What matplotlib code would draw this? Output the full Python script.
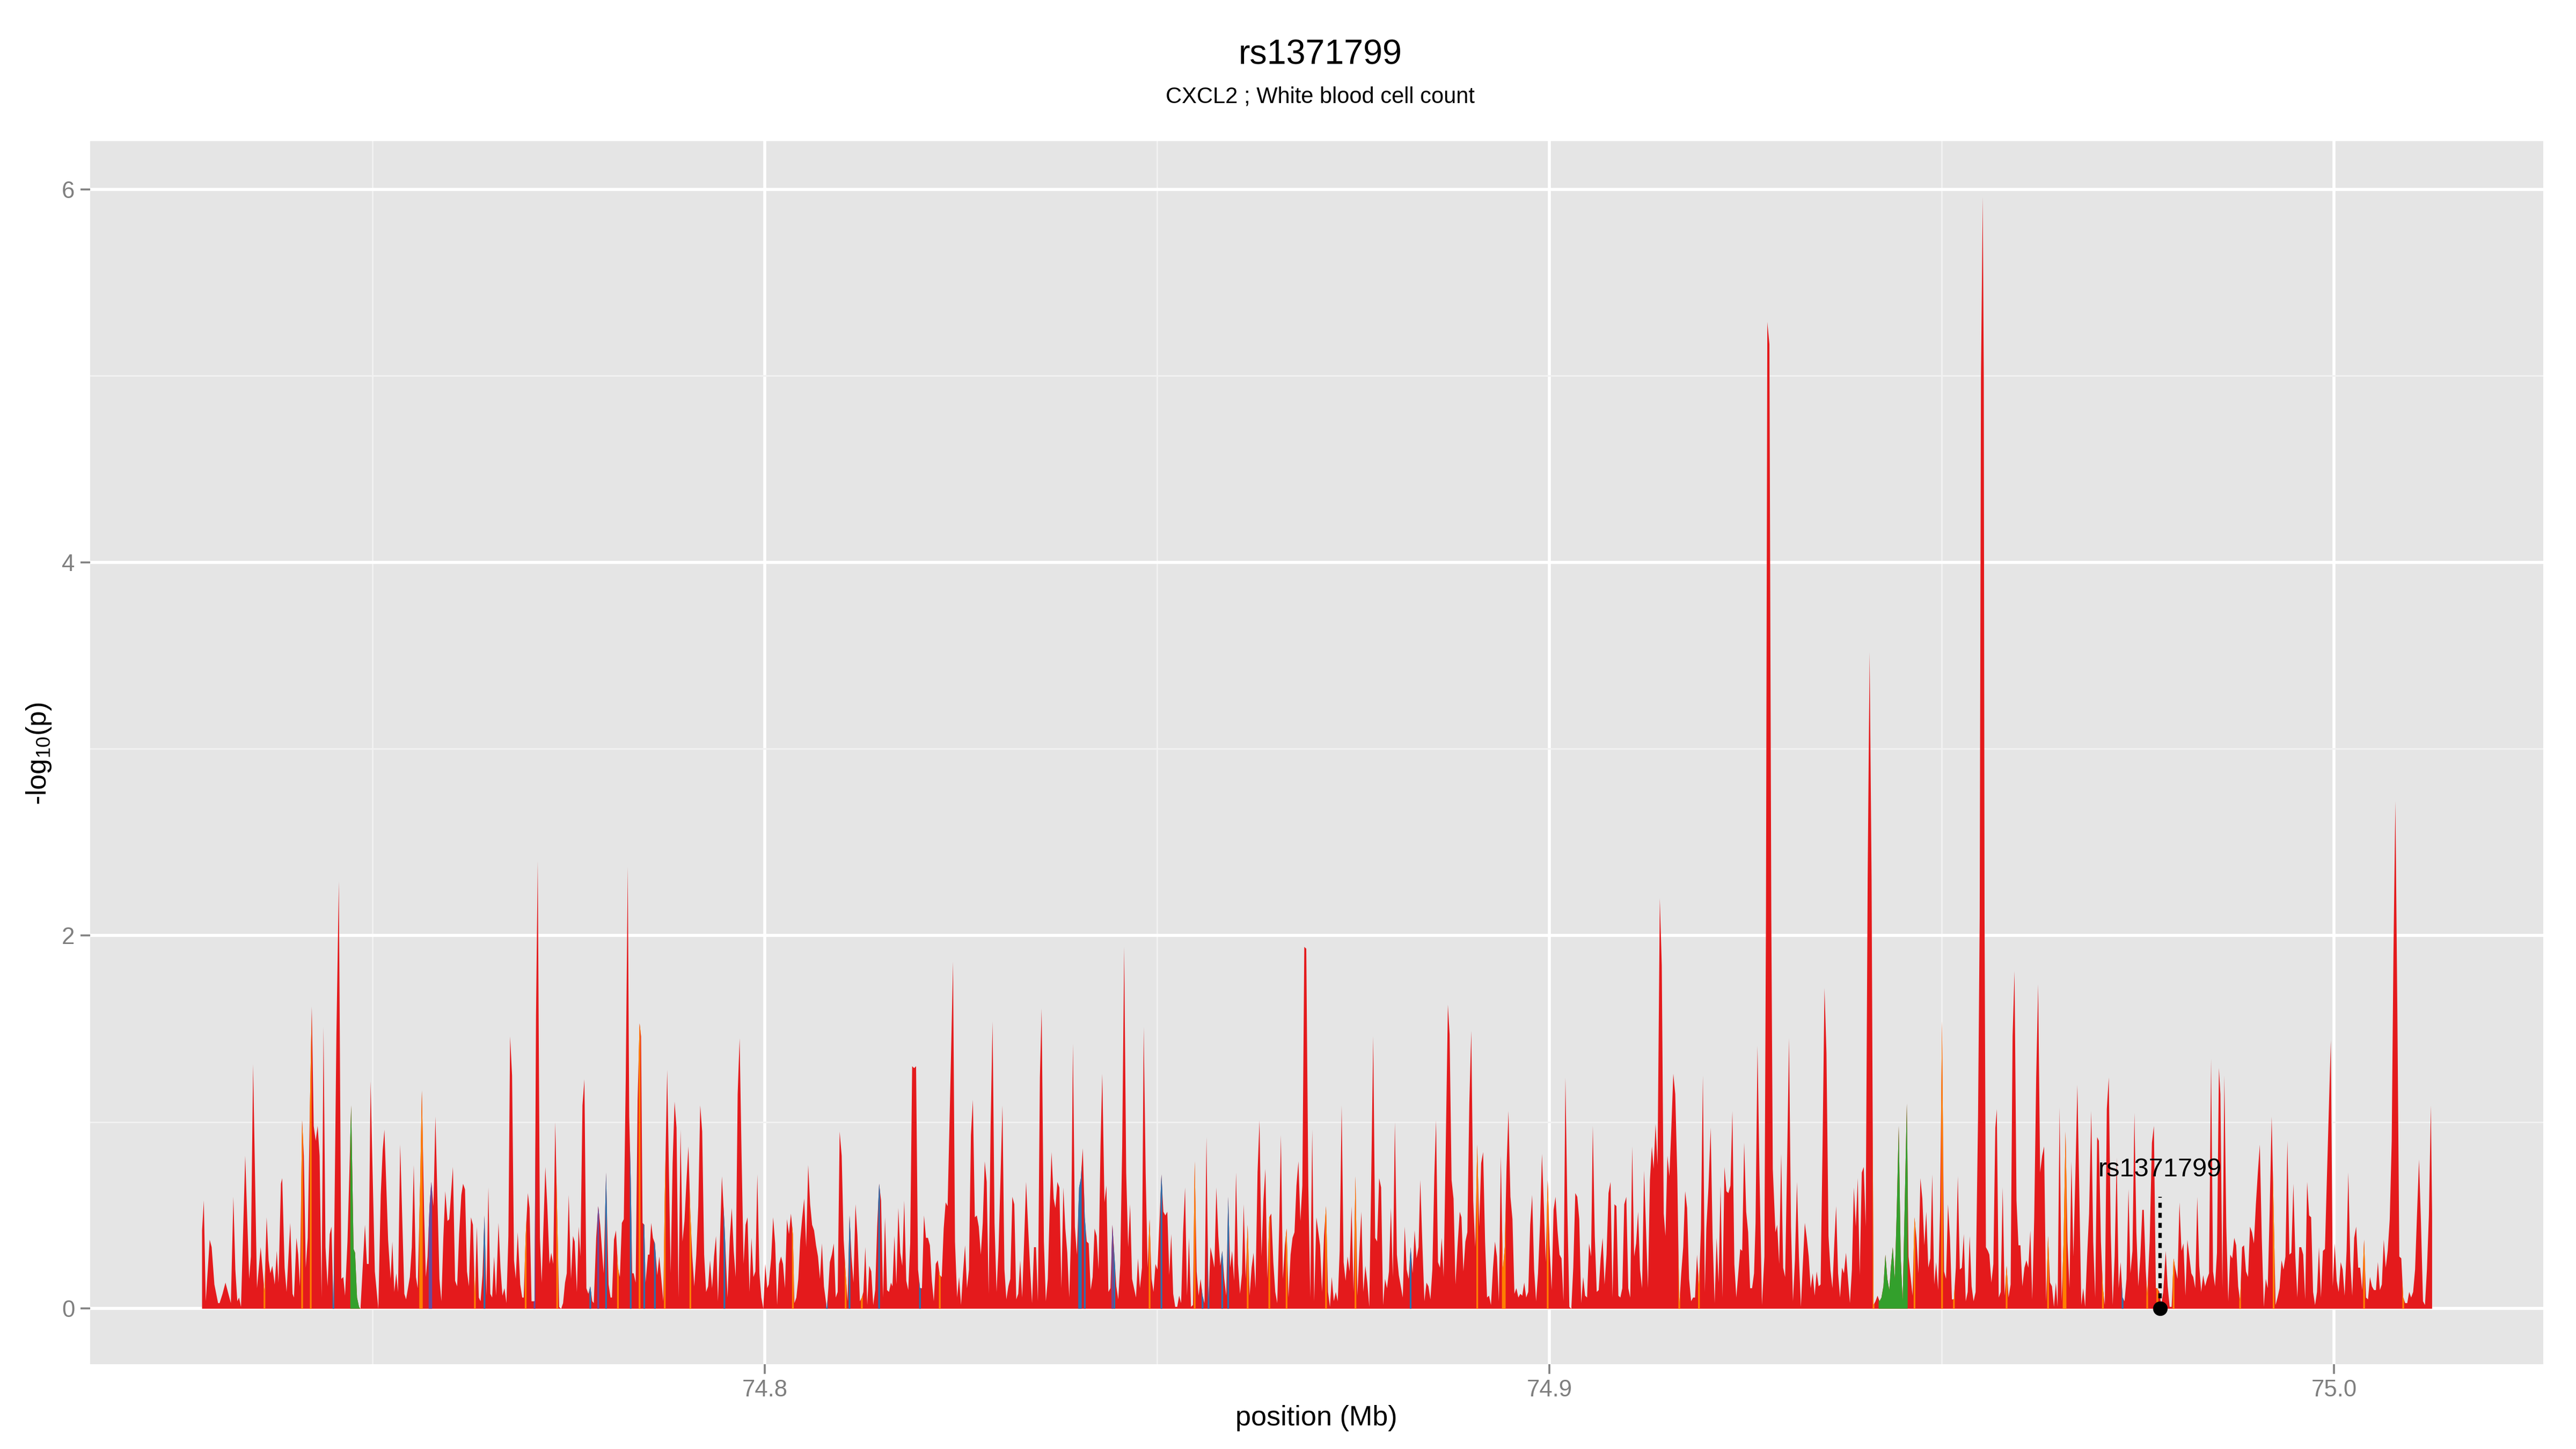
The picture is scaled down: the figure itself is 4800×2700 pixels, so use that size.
import numpy as np
import matplotlib
matplotlib.use('Agg')
import matplotlib.pyplot as plt
from matplotlib.ticker import FixedLocator

plt.rcParams['font.family'] = ['Liberation Sans', 'DejaVu Sans']
plt.rcParams['mathtext.fontset'] = 'custom'
plt.rcParams['mathtext.rm'] = 'Liberation Sans'

# text
title = 'rs1371799'
subtitle = 'CXCL2 ; White blood cell count'
lead_snp = 'rs1371799'
xlabel = 'position (Mb)'
ylabel = r'-$\mathregular{log_{10}(p)}$'

# lead SNP (kb from region start) and its -log10 p
region_start_mb = 74.7
lead_kb = 277.85
lead_logp = 0.0

# SNP positions, kb from 74.7 Mb
pos_kb = [
    28.25, 28.47, 28.72, 29.22, 29.47, 29.82, 30.29, 30.48, 30.86, 31.23,
    31.92, 32.24, 32.49, 32.74, 32.96, 33.21, 33.75, 34.25, 34.47, 34.75,
    35.25, 35.72, 36.2, 36.48, 36.73, 36.95, 37.2, 37.51, 37.77, 37.99,
    38.3, 38.46, 38.77, 39.02, 39.49, 39.78, 39.96, 40.28, 40.5, 40.72,
    41.0, 41.22, 41.47, 41.72, 41.97, 42.23, 42.48, 42.73, 42.98, 43.23,
    43.48, 43.73, 43.98, 44.24, 44.52, 44.74, 44.99, 45.37, 45.68, 46.0,
    46.25, 46.47, 46.78, 47.0, 47.25, 47.56, 47.75, 48.0, 48.25, 48.44,
    49.01, 49.26, 49.48, 49.73, 50.27, 50.71, 51.02, 51.27, 51.49, 51.96,
    52.28, 52.5, 52.75, 53.0, 53.22, 53.5, 54.03, 54.25, 54.73, 54.98,
    55.23, 55.51, 55.73, 56.04, 56.26, 56.55, 56.77, 56.99, 57.24, 57.46,
    57.74, 57.99, 58.5, 58.75, 59.0, 59.25, 59.53, 59.75, 60.22, 60.5,
    60.76, 61.01, 61.29, 61.51, 61.76, 62.01, 62.26, 62.52, 62.77, 63.02,
    63.27, 63.52, 63.74, 63.99, 64.24, 64.49, 64.74, 64.99, 65.22, 65.47,
    65.72, 66.03, 66.28, 66.53, 66.79, 67.04, 67.29, 67.51, 67.76, 68.01,
    68.23, 68.48, 68.8, 69.05, 69.24, 69.49, 69.77, 69.99, 70.24, 70.62,
    70.81, 71.03, 71.31, 71.53, 72.0, 72.25, 72.53, 72.75, 73.0, 73.26,
    73.51, 73.76, 74.01, 74.26, 74.51, 74.73, 74.98, 75.27, 75.52, 75.74, 76.02, 76.24,
    76.47, 76.73, 76.98, 77.23, 77.48, 77.73, 77.98, 78.17, 78.48, 78.74,
    78.99, 79.43, 79.74, 80.06, 80.31, 80.49, 80.75, 81.0, 81.25, 81.5,
    81.75, 82.0, 82.25, 82.5, 82.69, 82.88, 83.07, 83.26, 83.51, 83.76,
    84.01, 84.2, 84.39, 84.61, 84.77, 85.08, 85.27, 85.49, 85.71, 85.96,
    86.27, 86.52, 86.78, 87.03, 87.22, 87.53, 87.97, 88.22, 88.47, 88.72,
    88.97, 89.23, 89.48, 89.73, 89.98, 90.23, 90.48, 90.73, 90.98, 91.24,
    91.49, 91.74, 91.99, 92.24, 92.49, 92.74, 92.99, 93.25, 93.5, 93.75,
    94.0, 94.25, 94.5, 94.82, 95.22, 95.51, 95.76, 96.01, 96.26, 96.51,
    96.76, 97.01, 97.27, 97.52, 97.77, 98.02, 98.27, 98.52, 98.77, 99.02,
    99.28, 99.53, 99.78, 100.03, 100.28, 100.47, 100.78, 101.03, 101.29, 101.54,
    101.79, 102.04, 102.29, 102.54, 102.79, 103.05, 103.3, 103.55, 103.74, 103.99,
    104.24, 104.49, 104.74, 104.99, 105.24, 105.5, 105.75, 106.0, 106.25, 106.5,
    106.75, 107.0, 107.25, 107.51, 107.88, 108.07, 108.26, 108.51, 108.76, 109.01,
    109.26, 109.51, 109.77, 110.02, 110.27, 110.52, 110.77, 111.02, 111.27, 111.53,
    111.78, 112.09, 112.34, 112.53, 112.78, 113.03, 113.28, 113.54, 113.79, 114.04,
    114.29, 114.54, 114.79, 115.04, 115.29, 115.55, 115.8, 116.05, 116.24, 116.49,
    116.74, 116.99, 117.24, 117.49, 117.74, 118.0, 118.25, 118.5, 118.75, 119.0,
    119.25, 119.5, 119.75, 120.0, 120.26, 120.51, 120.76, 121.01, 121.26, 121.51,
    121.76, 122.01, 122.27, 122.52, 122.77, 123.02, 123.27, 123.71, 123.96, 124.21,
    124.48, 124.73, 124.98, 125.23, 125.49, 125.74, 125.99, 126.24, 126.49, 126.74,
    126.99, 127.24, 127.5, 127.75, 128.0, 128.25, 128.5, 128.75, 129.0, 129.25,
    129.51, 129.76, 130.01, 130.26, 130.51, 130.76, 131.01, 131.26, 131.52, 131.77,
    132.02, 132.27, 132.52, 132.77, 133.02, 133.27, 133.53, 133.78, 134.03, 134.28,
    134.53, 134.78, 135.03, 135.25, 135.54, 135.79, 136.04, 136.29, 136.51, 136.79,
    137.01, 137.26, 137.51, 137.77, 138.02, 138.27, 138.52, 138.77, 139.02, 139.24,
    139.49, 139.74, 140.03, 140.25, 140.5, 140.75, 141.0, 141.25, 141.5, 141.75,
    142.0, 142.26, 142.51, 142.76, 142.98, 143.26, 143.51, 143.76, 144.02, 144.27,
    144.52, 144.77, 145.02, 145.27, 145.52, 145.77, 146.03, 146.28, 146.53, 146.78,
    147.03, 147.28, 147.53, 147.78, 148.04, 148.26, 148.51, 148.76, 149.01, 149.26,
    149.51, 149.76, 150.01, 150.27, 150.52, 150.77, 151.02, 151.27, 151.52, 151.77,
    152.02, 152.28, 152.53, 152.78, 153.03, 153.28, 153.53, 153.78, 154.03, 154.29,
    154.54, 154.76, 155.01, 155.26, 155.51, 155.76, 156.01, 156.26, 156.52, 156.77,
    157.02, 157.27, 157.52, 157.77, 158.02, 158.27, 158.53, 158.78, 159.03, 159.28,
    159.53, 159.78, 160.03, 160.28, 160.54, 160.79, 161.01, 161.26, 161.51, 161.76,
    162.01, 162.26, 162.51, 162.77, 163.02, 163.27, 163.52, 163.77, 164.02, 164.27,
    164.52, 164.78, 165.03, 165.28, 165.53, 165.75, 166.0, 166.25, 166.47, 166.72,
    166.98, 167.23, 167.48, 167.73, 167.98, 168.23, 168.48, 168.73, 168.98, 169.24,
    169.49, 169.74, 169.99, 170.27, 170.49, 170.74, 170.99, 171.24, 171.5, 171.75, 172.0,
    172.23, 172.49, 172.74, 172.99, 173.24, 173.49, 173.74, 173.99, 174.24, 174.5,
    174.75, 175.0, 175.25, 175.5, 175.75, 176.0, 176.25, 176.51, 176.76, 177.01,
    177.26, 177.51, 177.76, 178.01, 178.27, 178.52, 178.77, 179.02, 179.27, 179.52,
    179.77, 180.02, 180.27, 180.53, 180.78, 181.03, 181.28, 181.53, 181.78, 182.03,
    182.28, 182.54, 182.79, 183.04, 183.29, 183.51, 183.79, 184.04, 184.3, 184.55,
    184.8, 185.05, 185.3, 185.52, 185.77, 186.02, 186.24, 186.49, 186.75, 187.03,
    187.25, 187.5, 187.75, 188.0, 188.25, 188.54, 188.76, 189.01, 189.26, 189.51,
    189.76, 190.01, 190.26, 190.51, 190.77, 191.02, 191.27, 191.52, 191.77, 192.02,
    192.27, 192.52, 192.78, 193.03, 193.28, 193.53, 193.78, 194.03, 194.28, 194.5,
    194.75, 195.0, 195.26, 195.51, 195.76, 196.01, 196.26, 196.51, 196.76, 197.01,
    197.27, 197.52, 197.77, 198.02, 198.27, 198.52, 198.77, 199.02, 199.28, 199.5,
    199.75, 200.0, 200.25, 200.5, 200.75, 201.0, 201.26, 201.51, 201.76, 202.01,
    202.26, 202.51, 202.76, 203.01, 203.27, 203.52, 203.77, 204.02, 204.27, 204.52,
    204.77, 205.02, 205.28, 205.5, 205.75, 206.0, 206.25, 206.5, 206.75, 207.0,
    207.25, 207.5, 207.76, 208.01, 208.26, 208.51, 208.76, 209.01, 209.26, 209.51,
    209.77, 210.02, 210.27, 210.52, 210.77, 211.02, 211.27, 211.52, 211.78, 212.03,
    212.28, 212.53, 212.78, 213.03, 213.25, 213.5, 213.75, 214.04, 214.29, 214.54,
    214.76, 215.01, 215.26, 215.51, 215.76, 216.01, 216.27, 216.52, 216.77, 217.02,
    217.27, 217.52, 217.77, 218.03, 218.28, 218.53, 218.78, 219.03, 219.28, 219.53, 219.78, 219.97,
    220.24, 220.52, 220.77, 221.03, 221.28, 221.53, 221.78, 222.03, 222.28, 222.53,
    222.78, 223.04, 223.29, 223.54, 223.79, 224.04, 224.29, 224.54, 224.79, 225.05,
    225.3, 225.55, 225.8, 226.05, 226.24, 226.49, 226.74, 227.06, 227.37, 227.57, 227.74,
    228.01, 228.25, 228.44, 228.78, 229.0, 229.25, 229.51, 229.76, 230.01, 230.26,
    230.51, 230.76, 231.01, 231.26, 231.52, 231.77, 232.02, 232.27, 232.52, 232.77,
    233.02, 233.27, 233.53, 233.78, 234.03, 234.28, 234.53, 234.78, 235.03, 235.28,
    235.54, 235.79, 236.04, 236.29, 236.51, 236.76, 237.01, 237.26, 237.51, 237.77,
    238.02, 238.27, 238.52, 238.77, 239.02, 239.27, 239.52, 239.78, 240.03, 240.28,
    240.53, 240.78, 241.03, 241.28, 241.53, 241.79, 242.04, 242.29, 242.54, 242.79,
    243.04, 243.29, 243.48, 243.73, 243.99, 244.24, 244.49, 244.74, 244.99, 245.24,
    245.52, 245.74, 246.25, 246.5, 246.75, 247.0, 247.25, 247.5, 247.75, 248.0,
    248.26, 248.51, 248.76, 249.01, 249.26, 249.51, 249.76, 250.01, 250.27, 250.52,
    250.77, 251.02, 251.27, 251.52, 251.77, 252.02, 252.28, 252.53, 252.78, 253.03,
    253.28, 253.53, 253.78, 254.03, 254.29, 254.6, 254.81, 254.97, 255.2, 255.33, 255.43, 255.6,
    255.86, 256.04, 256.3, 256.55, 256.8, 256.99, 257.24, 257.49, 257.74, 257.99,
    258.24, 258.49, 258.75, 259.0, 259.25, 259.5, 259.75, 260.0, 260.25, 260.51,
    260.76, 261.01, 261.26, 261.51, 261.76, 262.01, 262.26, 262.51, 262.77, 263.02,
    263.27, 263.52, 263.77, 264.02, 264.27, 264.52, 264.74, 264.99, 265.25, 265.5,
    265.75, 266.0, 266.25, 266.5, 266.75, 267.0, 267.26, 267.51, 267.76,
    268.0, 268.25, 268.5, 268.75, 269.03, 269.28, 269.53, 269.78, 270.0, 270.26,
    270.51, 270.76, 271.01, 271.26, 271.51, 271.76, 272.01, 272.27, 272.52, 272.77,
    273.02, 273.27, 273.52, 273.77, 274.02, 274.28, 274.53, 274.78, 275.03, 275.28,
    275.53, 275.72, 275.97, 276.16, 276.47, 276.76, 277.01, 277.26, 277.45, 277.7,
    277.95, 278.2, 278.52, 278.77, 279.02, 279.27, 279.52, 279.77, 280.02, 280.27,
    280.53, 280.78, 281.03, 281.28, 281.53, 281.78, 282.03, 282.28, 282.54, 282.79,
    283.04, 283.29, 283.54, 283.79, 284.04, 284.3, 284.55, 284.8, 285.05, 285.3,
    285.49, 285.74, 285.99, 286.24, 286.49, 286.74, 287.0, 287.25, 287.5, 287.75,
    288.0, 288.25, 288.5, 288.75, 289.01, 289.26, 289.51, 289.76, 290.01, 290.26,
    290.51, 290.76, 291.02, 291.27, 291.52, 291.77, 292.02, 292.27, 292.52, 292.77,
    293.03, 293.28, 293.53, 293.78, 294.03, 294.28, 294.53, 294.79, 295.04, 295.29,
    295.54, 295.79, 296.04, 296.29, 296.54, 296.8, 297.05, 297.3, 297.55, 297.8,
    298.05, 298.3, 298.55, 298.81, 299.06, 299.31, 299.56, 299.81, 300.06, 300.31,
    300.56, 300.82, 301.07, 301.32, 301.57, 301.79, 302.04, 302.29, 302.54, 302.79,
    303.05, 303.3, 303.55, 303.8, 304.05, 304.3, 304.55, 304.8, 305.06, 305.31,
    305.56, 305.81, 306.06, 306.31, 306.56, 306.81, 307.07, 307.32, 307.54, 307.79,
    308.04, 308.29, 308.54, 308.79, 309.04, 309.3, 309.55, 309.8, 310.05, 310.3,
    310.55, 310.8, 311.05, 311.31, 311.56, 311.81, 312.06, 312.31, 312.47,
]

# -log10(p) for each SNP
logp = [
    0.42, 0.58, 0.04, 0.37, 0.33, 0.13, 0.03, 0.03, 0.08, 0.14,
    0.03, 0.60, 0.21, 0.04, 0.06, 0.01, 0.82, 0.16, 0.28, 1.31,
    0.11, 0.33, 0.09, 0.49, 0.26, 0.19, 0.23, 0.13, 0.31, 0.14,
    0.67, 0.70, 0.22, 0.09, 0.46, 0.08, 0.06, 0.38, 0.29, 0.12,
    1.01, 0.82, 0.22, 0.38, 1.03, 1.62, 0.98, 0.90, 0.98, 0.82,
    0.06, 1.51, 0.33, 0.12, 0.40, 0.44, 0.0, 1.47, 2.29, 0.16,
    0.17, 0.07, 0.36, 0.70, 1.09, 0.32, 0.30, 0.06, 0.01, 0.0,
    0.45, 0.24, 0.24, 1.22, 0.20, 0.0, 0.61, 0.85, 0.96, 0.37,
    0.16, 0.36, 0.09, 0.19, 0.09, 0.88, 0.08, 0.05, 0.17, 0.33,
    0.77, 0.17, 0.11, 0.66, 1.17, 0.51, 0.17, 0.28, 0.55, 0.68,
    0.55, 1.03, 0.16, 0.04, 0.38, 0.63, 0.47, 0.48, 0.76, 0.15,
    0.12, 0.40, 0.61, 0.67, 0.64, 0.20, 0.12, 0.49, 0.45, 0.06,
    0.44, 0.06, 0.04, 0.18, 0.50, 0.07, 0.65, 0.08, 0.06, 0.28,
    0.07, 0.46, 0.22, 0.07, 0.11, 0.03, 0.39, 1.46, 1.25, 0.26,
    0.16, 0.41, 0.13, 0.06, 0.06, 0.39, 0.62, 0.54, 0.04, 0.04,
    1.57, 2.40, 0.38, 0.14, 0.76, 0.55, 0.24, 0.30, 0.24, 1.00,
    0.51, 0.01, 0.0, 0.03, 0.14, 0.19, 0.61, 0.16, 0.39, 0.36, 0.09, 0.44,
    0.28, 1.09, 1.23, 0.11, 0.08, 0.12, 0.04, 0.03, 0.38, 0.55,
    0.45, 0.19, 0.73, 0.13, 0.06, 0.06, 0.37, 0.42, 0.22, 0.17,
    0.46, 0.48, 1.24, 2.37, 1.03, 0.70, 0.19, 0.19, 0.14, 1.12,
    1.53, 1.46, 0.46, 0.45, 0.14, 0.29, 0.29, 0.46, 0.38, 0.35,
    0.18, 0.28, 0.16, 0.04, 0.61, 1.28, 0.19, 0.78, 1.11, 0.97,
    0.06, 0.96, 0.36, 0.47, 0.68, 0.87, 0.51, 0.28, 0.12, 0.29,
    0.55, 1.09, 0.95, 0.29, 0.09, 0.12, 0.26, 0.11, 0.28, 0.39,
    0.04, 0.36, 0.71, 0.46, 0.06, 0.38, 0.54, 0.31, 0.17, 1.15,
    1.45, 0.82, 0.24, 0.45, 0.49, 0.09, 0.38, 0.17, 0.20, 0.72,
    0.19, 0.06, 0.0, 0.24, 0.11, 0.13, 0.27, 0.49, 0.35, 0.02,
    0.24, 0.28, 0.24, 0.11, 0.48, 0.40, 0.51, 0.40, 0.03, 0.06,
    0.16, 0.37, 0.49, 0.59, 0.33, 0.77, 0.56, 0.45, 0.42, 0.34,
    0.28, 0.16, 0.35, 0.12, 0.0, 0.11, 0.25, 0.29, 0.35, 0.06,
    0.09, 0.95, 0.82, 0.37, 0.19, 0.04, 0.50, 0.28, 0.14, 0.56,
    0.39, 0.04, 0.06, 0.09, 0.33, 0.02, 0.23, 0.20, 0.02, 0.10,
    0.44, 0.67, 0.58, 0.06, 0.49, 0.10, 0.09, 0.14, 0.12, 0.39,
    0.13, 0.54, 0.30, 0.23, 0.58, 0.15, 0.10, 0.35, 1.30, 1.29,
    1.30, 0.21, 0.11, 0.11, 0.50, 0.38, 0.38, 0.34, 0.15, 0.04,
    0.24, 0.26, 0.18, 0.17, 0.43, 0.57, 0.55, 1.37, 1.86, 0.36,
    0.06, 0.17, 0.02, 0.19, 0.34, 0.11, 0.21, 0.93, 1.12, 0.49,
    0.50, 0.44, 0.29, 0.46, 0.79, 0.68, 0.08, 0.98, 1.54, 0.46,
    0.09, 0.32, 0.70, 1.09, 0.21, 0.05, 0.12, 0.16, 0.60, 0.56,
    0.05, 0.08, 0.26, 0.06, 0.36, 0.68, 0.44, 0.22, 0.03, 0.33,
    0.33, 0.04, 1.24, 1.61, 0.36, 0.04, 0.16, 0.55, 0.84, 0.59,
    0.54, 0.68, 0.65, 0.11, 0.65, 0.43, 0.30, 0.06, 0.43, 1.42,
    0.44, 0.29, 0.65, 0.70, 0.86, 0.49, 0.36, 0.35, 0.10, 0.17,
    0.43, 0.39, 0.21, 0.88, 1.26, 0.57, 0.66, 0.09, 0.11, 0.45,
    0.29, 0.12, 0.05, 0.24, 0.87, 1.94, 0.73, 0.33, 0.56, 0.16,
    0.11, 0.06, 0.27, 0.11, 0.22, 1.51, 0.73, 0.22, 0.48, 0.16,
    0.09, 0.24, 0.21, 0.47, 0.72, 0.52, 0.50, 0.52, 0.18, 0.40,
    0.08, 0.01, 0.01, 0.07, 0.03, 0.41, 0.65, 0.07, 0.38, 0.01,
    0.02, 0.79, 0.20, 0.07, 0.16, 0.07, 0.03, 0.92, 0.03, 0.33,
    0.28, 0.22, 0.65, 0.39, 0.23, 0.31, 0.16, 0.07, 0.60, 0.22,
    0.31, 0.15, 0.73, 0.24, 0.08, 0.19, 0.56, 0.16, 0.45, 0.07,
    0.22, 0.30, 0.11, 0.73, 1.01, 0.28, 0.58, 0.75, 0.16, 0.49,
    0.51, 0.25, 0.09, 0.03, 0.44, 0.93, 0.16, 0.34, 0.43, 0.06,
    0.29, 0.38, 0.41, 0.66, 0.79, 0.47, 0.66, 1.94, 1.93, 0.66,
    0.06, 0.96, 0.04, 0.49, 0.42, 0.34, 0.09, 0.39, 0.55, 0.09, 0.01,
    0.17, 0.04, 0.09, 0.04, 0.31, 1.09, 0.25, 0.15, 0.28, 0.20,
    0.55, 0.09, 0.71, 0.07, 0.31, 0.52, 0.09, 0.23, 0.14, 0.01,
    0.70, 1.46, 0.38, 0.36, 0.70, 0.65, 0.02, 0.16, 0.11, 0.20,
    0.54, 0.17, 1.00, 0.29, 0.18, 0.12, 0.06, 0.44, 0.21, 0.16,
    0.33, 0.19, 0.42, 0.27, 0.33, 0.69, 0.33, 0.04, 0.14, 0.12,
    0.05, 0.21, 0.71, 1.01, 0.25, 0.22, 0.38, 0.17, 0.85, 1.63,
    1.47, 0.69, 0.59, 0.13, 0.33, 0.52, 0.49, 0.20, 0.36, 0.41,
    1.10, 1.49, 0.58, 0.33, 0.88, 0.44, 0.78, 0.84, 0.36, 0.06,
    0.07, 0.02, 0.22, 0.36, 0.28, 0.04, 0.82, 0.21, 0.33, 0.75,
    1.06, 0.60, 0.48, 0.08, 0.11, 0.06, 0.08, 0.07, 0.14, 0.06,
    0.09, 0.45, 0.61, 0.21, 0.04, 0.19, 0.45, 0.83, 0.53, 0.25,
    0.69, 0.34, 0.10, 0.53, 0.60, 0.42, 0.29, 0.27, 0.04, 1.24,
    0.53, 0.01, 0.0, 0.22, 0.62, 0.60, 0.48, 0.03, 0.17, 0.07,
    0.06, 0.35, 0.28, 0.98, 0.39, 0.09, 0.10, 0.27, 0.38, 0.13,
    0.29, 0.62, 0.68, 0.06, 0.56, 0.55, 0.07, 0.06, 0.11, 0.56,
    0.60, 0.11, 0.06, 0.87, 0.28, 0.35, 0.52, 0.21, 0.11, 0.74,
    0.43, 0.11, 0.69, 0.87, 0.75, 0.99, 0.77, 2.20, 1.84, 0.51,
    0.39, 0.82, 0.71, 0.97, 1.26, 1.15, 0.71, 0.02, 0.19, 0.33,
    0.63, 0.54, 0.16, 0.04, 0.06, 0.06, 0.29, 0.12, 0.43, 1.25, 0.09, 0.43,
    0.65, 0.97, 0.38, 0.03, 0.38, 0.14, 0.66, 0.06, 0.76, 0.63,
    0.62, 0.66, 1.06, 0.24, 0.06, 0.19, 0.32, 0.31, 0.89, 0.52,
    0.41, 0.11, 0.11, 0.19, 0.46, 1.41, 0.73, 0.02, 0.28, 2.1, 5.29,
    5.17, 2.1, 0.75, 0.41, 0.45, 0.24, 0.83, 0.22, 0.17, 0.78,
    1.45, 0.44, 0.04, 0.26, 0.68, 0.28, 0.01, 0.24, 0.46, 0.38,
    0.28, 0.11, 0.19, 0.07, 0.20, 0.12, 0.13, 0.87, 1.72, 1.37,
    0.39, 0.21, 0.11, 0.36, 0.55, 0.19, 0.06, 0.22, 0.19, 0.30,
    0.16, 0.03, 0.21, 0.65, 0.44, 0.70, 0.18, 0.73, 0.76, 0.44,
    2.3, 3.52, 2.3, 0.02, 0.04, 0.07, 0.04, 0.06, 0.12, 0.29,
    0.16, 0.10, 0.22, 0.33, 0.16, 0.53, 0.98, 0.28, 0.04, 0.53,
    1.10, 0.28, 0.07, 0.49, 0.38, 0.19, 0.70, 0.59, 0.34, 0.52,
    0.22, 0.27, 0.72, 0.13, 0.25, 0.10, 0.53, 1.54, 0.20, 0.16,
    0.56, 0.38, 0.05, 0.05, 0.22, 0.71, 0.21, 0.22, 0.40, 0.04,
    0.09, 0.39, 0.12, 0.04, 0.09, 1.03, 2.1, 5.0, 5.96, 5.0, 2.1, 0.33,
    0.31, 0.29, 0.14, 0.24, 0.97, 1.07, 0.06, 0.09, 0.65, 0.07,
    0.23, 0.06, 0.13, 1.46, 1.81, 0.58, 0.34, 0.34, 0.12, 0.22,
    0.26, 0.22, 0.42, 0.05, 0.49, 1.24, 1.74, 0.73, 0.82, 0.87,
    0.04, 0.39, 0.14, 0.12, 0.01, 0.14, 0.01, 1.08, 0.04, 0.36,
    0.95, 0.36, 0.11, 0.79, 0.28, 0.71, 1.20, 0.61, 0.02,
    0.11, 0.01, 0.28, 0.51, 1.06, 0.36, 0.06, 0.92, 0.90, 0.36,
    0.11, 0.02, 1.07, 1.24, 0.41, 0.02, 0.28, 0.81, 0.11, 0.25,
    0.06, 0.04, 0.16, 0.64, 0.19, 0.31, 1.05, 0.41, 0.12, 0.28,
    0.53, 0.53, 0.21, 0.07, 0.36, 0.89, 0.98, 0.11, 0.11, 0.09,
    0.02, 0.09, 0.31, 0.12, 0.01, 0.01, 0.27, 0.21, 0.16, 0.57,
    0.31, 0.35, 0.07, 0.37, 0.28, 0.19, 0.17, 0.11, 0.60, 0.23,
    0.09, 0.18, 0.12, 0.16, 0.19, 1.34, 0.20, 0.12, 0.30, 1.29,
    1.15, 0.11, 1.25, 0.44, 0.04, 0.29, 0.27, 0.38, 0.34, 0.12,
    0.04, 0.33, 0.34, 0.20, 0.17, 0.44, 0.41, 0.35, 0.56, 0.73,
    0.88, 0.38, 0.01, 0.16, 0.11, 0.53, 1.03, 0.53, 0.02, 0.06,
    0.11, 0.26, 0.21, 0.28, 0.90, 0.29, 0.30, 0.67, 0.28, 0.06,
    0.33, 0.33, 0.29, 0.05, 0.68, 0.50, 0.49, 0.09, 0.02, 0.09,
    0.33, 0.06, 0.31, 0.32, 0.70, 1.07, 1.44, 0.12, 0.35, 0.15,
    0.09, 0.25, 0.21, 0.07, 0.31, 0.73, 0.26, 0.07, 0.38, 0.44,
    0.22, 0.22, 0.10, 0.37, 0.06, 0.05, 0.17, 0.12, 0.10, 0.10,
    0.25, 0.10, 0.13, 0.37, 0.22, 0.31, 0.48, 0.9, 1.9, 2.72,
    1.6, 0.28, 0.27, 0.06, 0.03, 0.03, 0.09, 0.06, 0.09, 0.21,
    0.51, 0.80, 0.46, 0.04, 0.02, 0.21, 0.50, 1.09, 0.51,
]

# SNPs not in the red (lowest) LD class: position (kb) and class
ld_pos_kb = [
    36.2, 41.0, 42.1, 44.99, 47.25, 47.56, 47.75, 48.0, 48.25, 56.04, 56.26, 57.24, 57.46, 63.02, 64.24, 69.49, 70.62, 73.51,
    77.73, 78.74, 79.74, 81.25, 82.88, 84.01, 84.61, 85.96, 87.22, 90.48, 94.82, 103.55, 107.88, 110.27, 110.77, 112.34, 114.54, 119.75, 122.27,
    140.03, 140.25, 140.75, 144.27, 144.52, 149.01, 150.52, 154.76, 155.76, 156.52, 158.27, 159.03, 161.51, 164.27, 166.47, 171.5,
    175.25, 182.28, 190.77, 194.03, 194.28, 199.75, 216.52, 219.03,
    241.28, 242.04, 242.29, 242.54, 242.79, 243.04, 243.29, 243.48, 243.73, 243.99, 244.24, 244.49, 244.74, 244.99, 245.24, 245.52,
    246.5, 250.01, 251.52, 258.24, 263.52, 265.5, 265.75,
    270.51, 273.02, 276.16, 277.45, 279.52, 288.0, 292.27, 303.8, 308.79,
]
ld_class = [
    'o', 'o', 'o', 'b', 'g', 'g', 'g', 'g', 'g', 'o', 'o', 'p', 'p', 'o', 'b', 'o', 'p', 'o',
    'b', 'p', 'b', 'o', 'b', 'o', 'b', 'b', 'o', 'o', 'b', 'o', 'b', 'o', 'b', 'o', 'b', 'b', 'o',
    'b', 'b', 'b', 'p', 'b', 'o', 'b', 'o', 'b', 'b', 'b', 'b', 'o', 'o', 'o', 'o',
    'o', 'b', 'o', 'o', 'o', 'o', 'o', 'o',
    'o', 'g', 'g', 'g', 'g', 'g', 'g', 'g', 'g', 'g', 'g', 'g', 'g', 'g', 'g', 'g',
    'o', 'o', 'o', 'o', 'o', 'o', 'o',
    'o', 'b', 'o', 'o', 'o', 'o', 'o', 'o', 'o',
]

red = '#E41A1C'
ld_colors = {'o': '#FF7F00', 'g': '#33A02C', 'b': '#2B72B0', 'p': '#6A4A9C'}

x = region_start_mb + np.array(pos_kb) / 1000.0
y = np.array(logp)
assert len(x) == len(y)
assert len(ld_pos_kb) == len(ld_class)

fig = plt.figure(figsize=(16, 9), dpi=300)
ax = fig.add_axes([0.035, 0.05863, 0.95229, 0.84396])
ax.set_facecolor('#E5E5E5')
for s in ax.spines.values():
    s.set_visible(False)

ax.set_xlim(74.71402, 75.02667)
ax.set_ylim(-0.298, 6.258)
ax.xaxis.set_major_locator(FixedLocator([74.8, 74.9, 75.0]))
ax.xaxis.set_minor_locator(FixedLocator([74.75, 74.85, 74.95]))
ax.yaxis.set_major_locator(FixedLocator([0, 2, 4, 6]))
ax.yaxis.set_minor_locator(FixedLocator([1, 3, 5]))
ax.set_xticklabels(['74.8', '74.9', '75.0'])
ax.set_yticklabels(['0', '2', '4', '6'])
ax.set_axisbelow(True)
ax.grid(which='major', color='white', linewidth=1.35)
ax.grid(which='minor', color='#F2F2F2', linewidth=0.65)
ax.tick_params(which='major', length=4.3, width=0.85, color='#7F7F7F',
               labelcolor='#7F7F7F', labelsize=10.5, pad=2.6)
ax.tick_params(which='minor', length=0)

# association profile
ax.fill_between(x, 0, y, color=red, linewidth=0, zorder=2)

# LD class strips, consecutive SNPs of one class form one strip
half = 0.11 / 1000.0
lx = region_start_mb + np.array(ld_pos_kb) / 1000.0
runs = []
for xi, c in zip(lx, ld_class):
    if runs and runs[-1][2] == c and xi - runs[-1][1] < 0.00036:
        runs[-1][1] = xi
    else:
        runs.append([xi, xi, c])
for a, b, c in runs:
    lo, hi = a - half, b + half
    inside = x[(x > lo) & (x < hi)]
    xs = np.concatenate([[lo], inside, [hi]])
    ys = np.interp(xs, x, y)
    ax.fill_between(xs, 0, ys, color=ld_colors[c], linewidth=0, zorder=3)

# lead SNP marker and label
lead_x = region_start_mb + lead_kb / 1000.0
ax.plot([lead_x, lead_x], [lead_logp, 0.6], color='black', lw=1.5,
        ls=(0, (1.5, 1.5)), zorder=4)
ax.plot([lead_x], [lead_logp], 'o', color='black', ms=5.5, zorder=5, clip_on=False)
ax.text(lead_x, 0.745, lead_snp, ha='center', va='center', fontsize=11.7, zorder=6)

fig.text(0.5125, 0.9556, title, ha='center', va='baseline', fontsize=15.5)
fig.text(0.5125, 0.9292, subtitle, ha='center', va='baseline', fontsize=10)
fig.text(0.5111, 0.0162, xlabel, ha='center', va='baseline', fontsize=12.5)
fig.text(0.0152, 0.4800, ylabel, ha='center', va='center', rotation=90, fontsize=12.5)

fig.savefig('out.png', dpi=300)
